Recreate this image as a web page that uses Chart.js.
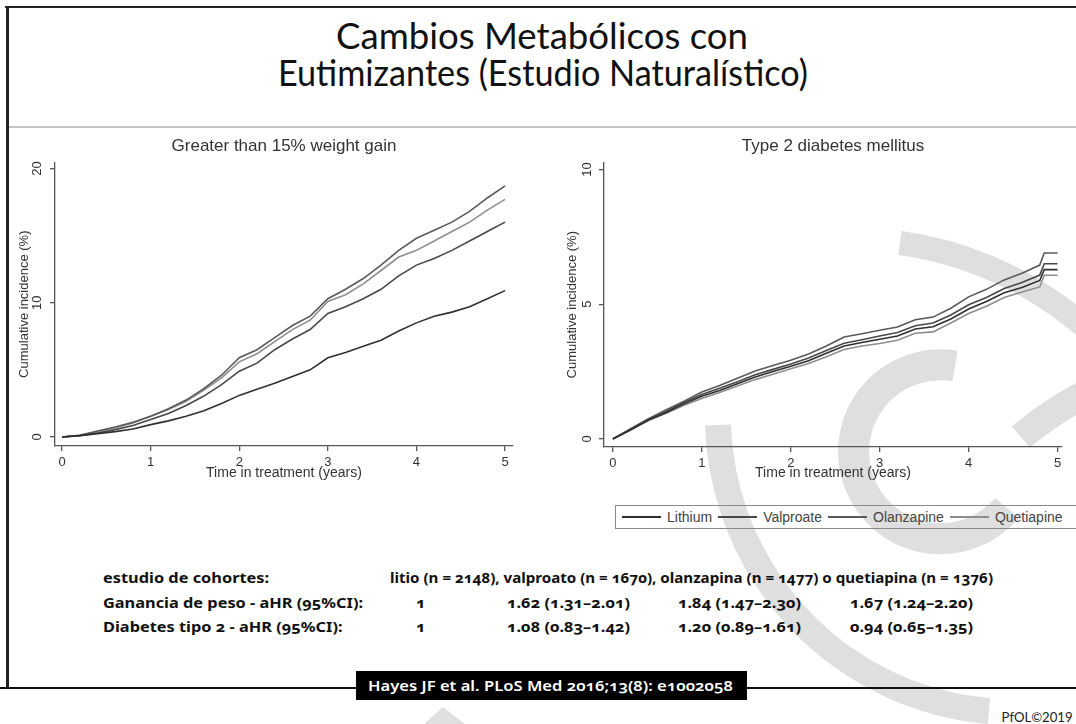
<!DOCTYPE html>
<html>
<head>
<meta charset="utf-8">
<script src="https://cdn.jsdelivr.net/npm/chart.js@4.4.1/dist/chart.umd.min.js"></script>
<style>
  body { margin: 0; width: 1076px; height: 724px; position: relative; overflow: hidden; background: #fff; }
  .abs { position: absolute; }
  .ttl { font-family: Lato, "Open Sans", sans-serif; font-size: 37px; line-height: 38px; color: #111; white-space: nowrap; transform-origin: left center; }
  .tbl { font-family: "Noto Sans", "Open Sans", sans-serif; font-weight: bold; font-size: 14px; line-height: 18px; color: #111; white-space: nowrap; transform-origin: left center; font-variant-numeric: oldstyle-nums; }
  #legend { left: 615px; top: 505px; width: 520px; height: 22px; border: 1.5px solid #8a8a8a; display: flex; align-items: center; font-family: "Liberation Sans", Arial, sans-serif; font-size: 14px; color: #444; }
  #legend .ln { display: inline-block; width: 39px; height: 1.6px; margin: 0 6px 0 6px; }
  canvas { position: absolute; }
</style>
</head>
<body>

<svg class="abs" width="1076" height="724" style="left:0;top:0">
  <g fill="none" stroke="#dfdfdf" stroke-linecap="butt">
    <path d="M955 366 A87 87 0 1 0 1007 508" stroke-width="31"/>
    <path d="M900 243 A358 358 0 0 1 1126 369" stroke-width="24"/>
    <path d="M718 425 A297 297 0 0 0 989 711" stroke-width="26"/>
    <path d="M1021 437 Q1050 412 1092 390" stroke-width="28"/>
  </g>
  <polygon points="443,707 465,724 424,724" fill="#dfdfdf"/>
</svg>

<div class="abs" style="left:5px;top:6px;width:1071px;height:2px;background:#222"></div>
<div class="abs" style="left:6px;top:6px;width:3px;height:683px;background:#222"></div>
<div class="abs" style="left:9px;top:126px;width:1067px;height:2px;background:#c4c4c4"></div>

<div class="abs ttl" style="left:336px;top:16px" data-w="412">Cambios Metabólicos con</div>
<div class="abs ttl" style="left:278px;top:53px" data-w="530">Eutimizantes (Estudio Naturalístico)</div>

<canvas id="weightChart" width="540" height="360" style="left:0;top:128px"></canvas>
<canvas id="diabetesChart" width="536" height="360" style="left:540px;top:128px"></canvas>

<div id="legend" class="abs"></div>

<div class="abs" style="left:0;top:687px;width:1076px;height:2px;background:#111"></div>
<div class="abs" style="left:356px;top:671px;width:391px;height:29px;background:#000"></div>
<div class="abs tbl" style="left:368px;top:676px;color:#fff;font-weight:600;font-size:15px" data-w="365">Hayes JF et al. PLoS Med 2016;13(8): e1002058</div>
<div class="abs" style="left:1002px;top:709px;font-family:Lato,sans-serif;font-size:13px;color:#222" data-w="71">PfOL©2019</div>

<script>
// series names and colours
const seriesNames = ['Lithium', 'Valproate', 'Olanzapine', 'Quetiapine'];
const seriesColors = ['#303030', '#484848', '#5a5a5a', '#8e8e8e'];

// x axis (years)
const xTicks = [0, 1, 2, 3, 4, 5];

// greater than 15% weight gain
const weightYears = [0, 0.2, 0.4, 0.6, 0.8, 1, 1.2, 1.4, 1.6, 1.8, 2, 2.2, 2.4, 2.6, 2.8, 3, 3.2, 3.4, 3.6, 3.8, 4, 4.2, 4.4, 4.6, 4.8, 5];
const weightLithium = [0, 0.1, 0.25, 0.4, 0.6, 0.92, 1.2, 1.55, 1.95, 2.5, 3.1, 3.55, 4.0, 4.5, 5.0, 5.9, 6.3, 6.75, 7.2, 7.9, 8.5, 9.0, 9.3, 9.7, 10.3, 10.9];
const weightValproate = [0, 0.1, 0.3, 0.55, 0.85, 1.3, 1.75, 2.35, 3.05, 3.9, 4.9, 5.5, 6.5, 7.3, 8.0, 9.2, 9.7, 10.3, 11.0, 12.0, 12.8, 13.3, 13.9, 14.6, 15.3, 16.0];
const weightOlanzapine = [0, 0.12, 0.45, 0.75, 1.1, 1.55, 2.1, 2.75, 3.6, 4.6, 5.9, 6.5, 7.4, 8.3, 9.0, 10.3, 11.0, 11.8, 12.8, 13.9, 14.8, 15.4, 16.0, 16.8, 17.8, 18.7];
const weightQuetiapine = [0, 0.12, 0.4, 0.7, 1.05, 1.54, 2.05, 2.65, 3.5, 4.4, 5.6, 6.2, 7.1, 8.0, 8.7, 10.1, 10.6, 11.4, 12.4, 13.4, 13.9, 14.6, 15.3, 16.0, 16.9, 17.7];
const weightTicks = [0, 10, 20];

// type 2 diabetes mellitus
const diabetesYears = [0, 0.2, 0.4, 0.6, 0.8, 1, 1.2, 1.4, 1.6, 1.8, 2, 2.2, 2.4, 2.6, 2.8, 3, 3.2, 3.4, 3.6, 3.8, 4, 4.2, 4.4, 4.6, 4.8, 4.85, 5];
const diabetesLithium = [0, 0.34, 0.7, 0.98, 1.3, 1.58, 1.8, 2.05, 2.3, 2.5, 2.7, 2.9, 3.18, 3.45, 3.58, 3.7, 3.82, 4.08, 4.16, 4.45, 4.82, 5.1, 5.42, 5.62, 5.88, 6.28, 6.28];
const diabetesValproate = [0, 0.36, 0.72, 1.02, 1.35, 1.65, 1.88, 2.12, 2.38, 2.58, 2.78, 3.0, 3.28, 3.55, 3.68, 3.82, 3.95, 4.2, 4.3, 4.6, 4.98, 5.25, 5.58, 5.8, 6.08, 6.5, 6.5];
const diabetesOlanzapine = [0, 0.38, 0.75, 1.08, 1.4, 1.74, 1.98, 2.25, 2.52, 2.72, 2.92, 3.15, 3.45, 3.78, 3.9, 4.03, 4.15, 4.42, 4.52, 4.85, 5.27, 5.55, 5.9, 6.15, 6.45, 6.9, 6.9];
const diabetesQuetiapine = [0, 0.33, 0.68, 0.95, 1.25, 1.5, 1.72, 1.96, 2.2, 2.4, 2.6, 2.8, 3.05, 3.32, 3.45, 3.54, 3.66, 3.92, 3.97, 4.3, 4.65, 4.92, 5.25, 5.45, 5.64, 6.07, 6.07];
const diabetesTicks = [0, 5, 10];

// table below the charts
const cohortLabel = 'estudio de cohortes:';
const cohortText = 'litio (n = 2148), valproato (n = 1670), olanzapina (n = 1477) o quetiapina (n = 1376)';
const rowLabels = ['Ganancia de peso - aHR (95%CI):', 'Diabetes tipo 2 - aHR (95%CI):'];
const weightHR = ['1', '1.62 (1.31–2.01)', '1.84 (1.47–2.30)', '1.67 (1.24–2.20)'];
const diabetesHR = ['1', '1.08 (0.83–1.42)', '1.20 (0.89–1.61)', '0.94 (0.65–1.35)'];

var FONT = 'Liberation Sans';

function makeChart(id, title, years, series, yTicks, lay) {
    var datasets = series.map(function (vals, k) {
        return {
            label: seriesNames[k],
            data: years.map(function (t, i) { return { x: t, y: vals[i] }; }),
            borderColor: seriesColors[k],
            borderWidth: 1.6,
            pointRadius: 0,
            tension: 0,
            fill: false
        };
    });
    return new Chart(document.getElementById(id), {
        type: 'line',
        data: { datasets: datasets },
        options: {
            responsive: false,
            animation: false,
            events: [],
            layout: { padding: { top: 0, right: lay.padRight, bottom: 0, left: 0 } },
            plugins: {
                legend: { display: false },
                tooltip: { enabled: false },
                title: {
                    display: true, text: title, fullSize: false, color: '#333',
                    font: { family: FONT, size: 17, weight: 'normal' },
                    padding: { top: 8, bottom: 6 }
                }
            },
            scales: {
                x: {
                    type: 'linear', min: lay.xMin, max: lay.xMax,
                    afterBuildTicks: function (s) { s.ticks = xTicks.map(function (v) { return { value: v }; }); },
                    afterFit: function (s) { s.height = lay.xH; },
                    border: { display: true, color: '#555', width: 1.3 },
                    grid: { drawOnChartArea: false, drawTicks: true, tickLength: 5, color: '#555', lineWidth: 1.3 },
                    ticks: { color: '#333', font: { family: FONT, size: 13 }, padding: 4, maxRotation: 0, autoSkip: false },
                    title: { display: true, text: 'Time in treatment (years)', color: '#333', font: { family: FONT, size: 14 }, padding: { top: 0, bottom: 6 } }
                },
                y: {
                    type: 'linear', min: lay.yMin, max: lay.yMax,
                    afterBuildTicks: function (s) { s.ticks = yTicks.map(function (v) { return { value: v }; }); },
                    afterFit: function (s) { s.width = lay.yW; },
                    border: { display: true, color: '#555', width: 1.3 },
                    grid: { drawOnChartArea: false, drawTicks: true, tickLength: 5, color: '#555', lineWidth: 1.3 },
                    ticks: { color: '#333', font: { family: FONT, size: 13 }, padding: lay.yTickPad, minRotation: 90, maxRotation: 90, crossAlign: 'center', autoSkip: false },
                    title: { display: true, text: 'Cumulative incidence (%)', color: '#333', font: { family: FONT, size: 13 }, padding: { top: lay.yTitlePad, bottom: 0 } }
                }
            }
        }
    });
}

makeChart('weightChart', 'Greater than 15% weight gain', weightYears,
    [weightLithium, weightValproate, weightOlanzapine, weightQuetiapine], weightTicks,
    { padRight: 27, xH: 42, yW: 55, xMin: -0.08, xMax: 5.09, yMin: -0.67, yMax: 20.45, yTickPad: 5, yTitlePad: 17 });

makeChart('diabetesChart', 'Type 2 diabetes mellitus', diabetesYears,
    [diabetesLithium, diabetesValproate, diabetesOlanzapine, diabetesQuetiapine], diabetesTicks,
    { padRight: 14, xH: 41, yW: 64, xMin: -0.1, xMax: 5.05, yMin: -0.3, yMax: 10.26, yTickPad: 4, yTitlePad: 25 });

// legend
var legend = document.getElementById('legend');
seriesNames.forEach(function (name, k) {
    var ln = document.createElement('span');
    ln.className = 'ln';
    ln.style.background = seriesColors[k];
    legend.appendChild(ln);
    var tx = document.createElement('span');
    tx.textContent = name;
    legend.appendChild(tx);
});

// table text
var tableEls = [];
function addText(text, left, cy) {
    var d = document.createElement('div');
    d.className = 'abs tbl';
    d.textContent = text;
    d.style.left = left + 'px';
    d.style.top = (cy - 9) + 'px';
    document.body.appendChild(d);
    tableEls.push(d);
    return d;
}
var colX = [416, 507, 678, 850];
addText(cohortLabel, 103, 578);
var cohortEl = addText(cohortText, 390, 578);
var refEl = addText(rowLabels[0], 103, 603);
addText(rowLabels[1], 103, 627);
weightHR.forEach(function (t, i) { addText(t, colX[i], 603); });
diabetesHR.forEach(function (t, i) { addText(t, colX[i], 627); });

function fitText() {
    document.querySelectorAll('[data-w]').forEach(function (el) {
        el.style.transform = 'none';
        var w = el.getBoundingClientRect().width;
        el.style.transform = 'scaleX(' + (el.dataset.w / w).toFixed(3) + ')';
    });
    // one common squeeze for the table, taken from the first row label
    tableEls.forEach(function (el) { el.style.transform = 'none'; });
    var k = 260 / refEl.getBoundingClientRect().width;
    tableEls.forEach(function (el) { el.style.transform = 'scaleX(' + k.toFixed(3) + ')'; });
    cohortEl.style.transform = 'scaleX(' + (603 / (cohortEl.getBoundingClientRect().width / k)).toFixed(3) + ')';
}
fitText();
if (document.fonts) document.fonts.ready.then(fitText);
</script>
</body>
</html>
